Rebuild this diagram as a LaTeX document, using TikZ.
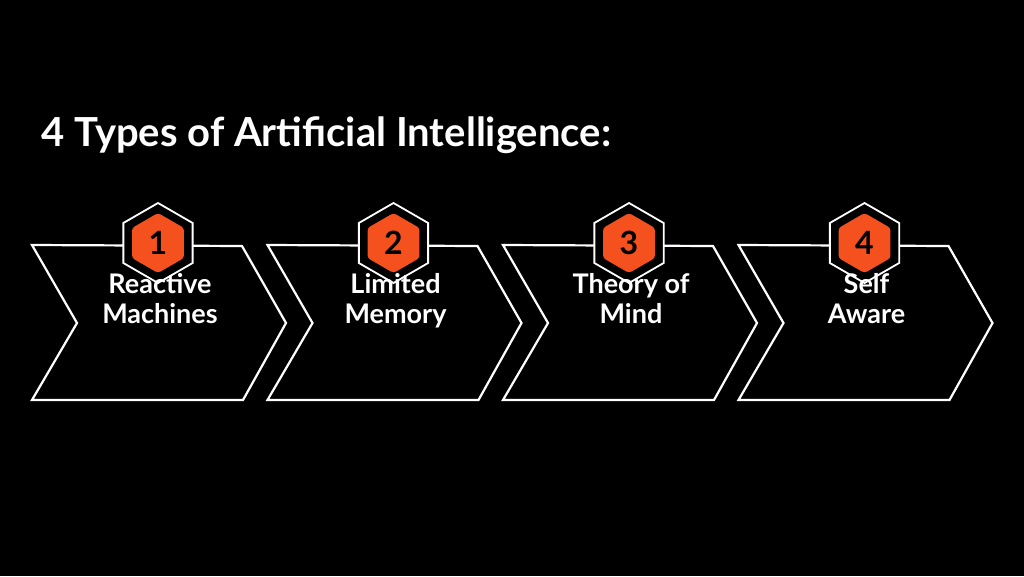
\documentclass[tikz,border=0pt]{standalone}
\usepackage{fontspec}
\setmainfont{Lato}
\definecolor{aiorange}{HTML}{F4511E}
\begin{document}
\begin{tikzpicture}[x=1pt,y=-1pt,
  chev/.style={draw=white,line width=2.2pt,line join=miter},
  hexo/.style={draw=white,line width=1.8pt,fill=black},
  hexi/.style={fill=aiorange,rounded corners=3pt},
  lab/.style={text=white,font=\bfseries\fontsize{27}{30}\selectfont,align=center,anchor=base},
  num/.style={text=black,font=\bfseries\fontsize{32}{34}\selectfont}]
\fill[black] (0,0) rectangle (1024,576);
\useasboundingbox (0,0) rectangle (1024,576);
\node[anchor=west,text=white,font=\bfseries\fontsize{40}{44}\selectfont] (title) at (38,135) {4 Types of Artificial Intelligence:};
\foreach \i/\t [count=\k from 0] in {1/{Reactive\\Machines},2/{Limited\\Memory},3/{Theory of\\Mind},4/{Self\\Aware}}{
  \begin{scope}[xshift=\k*235.5]
  \draw[chev] (32,245) -- (242,246) -- (286,323) -- (243,400) -- (32,400) -- (77,323) -- cycle;
  \draw[hexo] (158,203) -- ++(30:40) -- ++(90:40) -- ++(150:40) -- ++(210:40) -- ++(270:40) -- cycle;
  \fill[hexi] (158,213) -- ++(30:30) -- ++(90:30) -- ++(150:30) -- ++(210:30) -- ++(270:30) -- cycle;
  \node[num] (n\i) at (158,243) {\i};
  \node[lab] (l\i) at (160,323) {\t};
  \end{scope}}
\end{tikzpicture}
\end{document}
